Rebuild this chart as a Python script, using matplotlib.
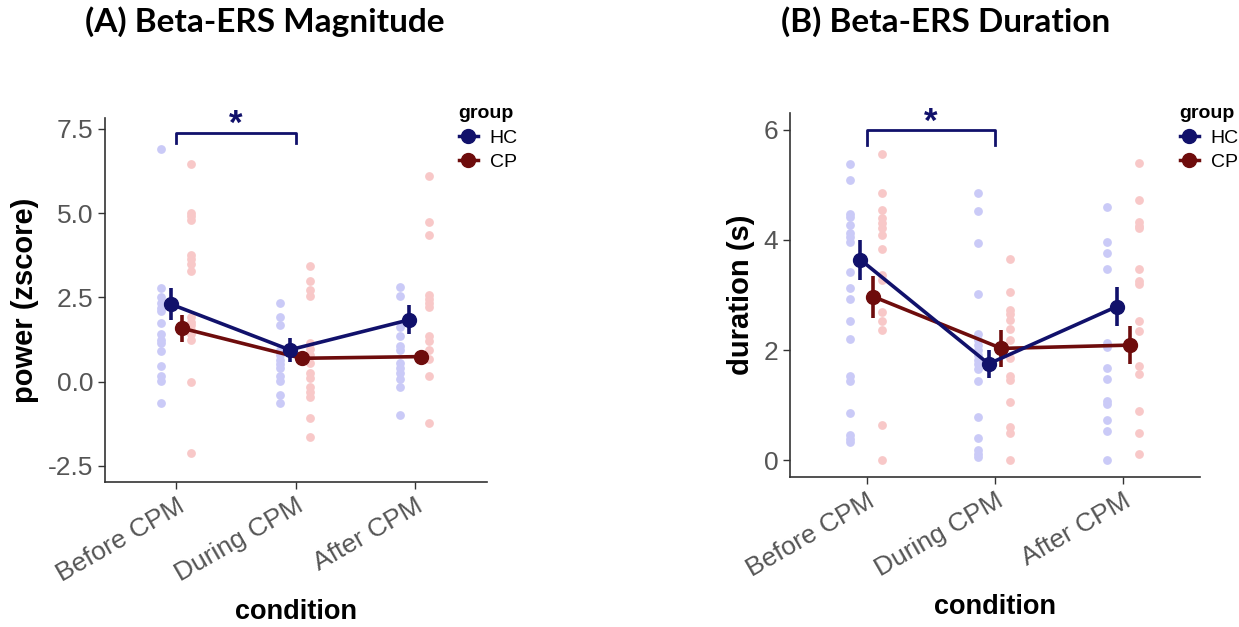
import matplotlib
matplotlib.use("Agg")
import matplotlib.pyplot as plt
from matplotlib.lines import Line2D

# ── Data ───────────────────────────────────────────────────────────────────────
conditions = ["Before CPM", "During CPM", "After CPM"]
groups = ["HC", "CP"]

# (A) power, individual subjects
power_hc = [
    [6.89, 2.79, 2.52, 2.34, 2.18, 2.08, 1.75, 1.41, 1.24, 1.14, 0.92, 0.45, 0.15, 0.03, -0.64],
    [2.32, 1.93, 1.68, 0.94, 0.79, 0.64, 0.52, 0.40, 0.15, 0.03, -0.40, -0.64],
    [2.82, 2.55, 1.63, 1.34, 1.04, 0.94, 0.54, 0.40, 0.25, 0.07, -0.15, -0.99],
]
power_cp = [
    [6.46, 5.01, 4.90, 4.78, 3.76, 3.63, 3.49, 3.29, 1.93, 1.78, 1.68, 1.53, 1.41, 1.24, 0.0, -2.13],
    [3.43, 2.97, 2.72, 2.55, 1.14, 0.96, 0.79, 0.54, 0.25, 0.10, -0.15, -0.30, -0.45, -1.09, -1.65],
    [6.10, 4.72, 4.35, 2.57, 2.44, 2.32, 2.21, 1.34, 1.19, 0.94, 0.66, 0.15, -1.24],
]
power_mean_hc = [2.30, 0.94, 1.83]
power_se_hc = [0.47, 0.36, 0.43]
power_mean_cp = [1.58, 0.69, 0.74]
power_se_cp = [0.40, 0.15, 0.15]

# (B) duration, individual subjects
dur_hc = [
    [5.38, 5.09, 4.48, 4.42, 4.28, 4.12, 4.05, 3.97, 3.42, 3.12, 2.93, 2.53, 2.21, 1.53, 1.44, 0.85, 0.45, 0.39, 0.33],
    [4.86, 4.52, 3.94, 3.01, 2.29, 2.18, 2.09, 2.00, 1.91, 1.82, 1.75, 1.65, 1.44, 0.78, 0.41, 0.18, 0.11, 0.05],
    [4.59, 3.96, 3.76, 3.47, 2.12, 2.06, 1.68, 1.47, 1.08, 1.02, 0.73, 0.53, 0.0],
]
dur_cp = [
    [5.56, 4.86, 4.55, 4.39, 4.30, 4.21, 4.09, 3.83, 3.36, 3.27, 2.70, 2.52, 2.36, 0.64, 0.0],
    [3.65, 3.05, 2.73, 2.65, 2.55, 2.38, 2.18, 1.85, 1.52, 1.45, 1.05, 0.61, 0.50, 0.0],
    [5.39, 4.72, 4.33, 4.25, 4.21, 3.47, 3.26, 3.20, 2.53, 2.35, 1.71, 1.56, 0.90, 0.50, 0.11],
]
dur_mean_hc = [3.64, 1.75, 2.79]
dur_se_hc = [0.36, 0.25, 0.36]
dur_mean_cp = [2.97, 2.03, 2.09]
dur_se_cp = [0.38, 0.33, 0.35]

# ── Style ──────────────────────────────────────────────────────────────────────
plt.rcParams["font.family"] = ["Liberation Sans", "DejaVu Sans"]
C_HC, C_CP = "#11116b", "#6e0c0c"
P_HC, P_CP = "#cacaf7", "#f8c8c8"
GRAY = "#555555"

fig = plt.figure(figsize=(12.39, 6.27), dpi=100)
axA = fig.add_axes([0.0847, 0.2313, 0.308, 0.5805])
axB = fig.add_axes([0.6376, 0.2397, 0.331, 0.5796])


def draw_panel(ax, pts_hc, pts_cp, m_hc, s_hc, m_cp, s_cp, xpad):
    xs = range(1, len(conditions) + 1)
    for x, vh, vc in zip(xs, pts_hc, pts_cp):
        ax.scatter([x - 0.13] * len(vh), vh, s=40, color=P_HC, lw=0, zorder=1)
        ax.scatter([x + 0.12] * len(vc), vc, s=40, color=P_CP, lw=0, zorder=1)
    xh = [x - 0.05 for x in xs]
    xc = [x + 0.05 for x in xs]
    ax.plot(xc, m_cp, color=C_CP, lw=2.6, zorder=2)
    ax.errorbar(xc, m_cp, yerr=s_cp, fmt="o", color=C_CP, ms=10, elinewidth=2.6, capsize=0, zorder=3)
    ax.plot(xh, m_hc, color=C_HC, lw=2.6, zorder=4)
    ax.errorbar(xh, m_hc, yerr=s_hc, fmt="o", color=C_HC, ms=10, elinewidth=2.6, capsize=0, zorder=5)
    ax.set_xlim(0.4, 3.6)
    ax.set_xticks(list(xs))
    ax.set_xticklabels(conditions, rotation=30, ha="right", rotation_mode="anchor",
                       fontsize=19, color=GRAY)
    ax.tick_params(axis="both", colors="#333333", length=5, width=1)
    ax.tick_params(axis="y", labelsize=19, labelcolor=GRAY)
    ax.tick_params(axis="x", labelcolor=GRAY)
    for sp in ("top", "right"):
        ax.spines[sp].set_visible(False)
    for sp in ("left", "bottom"):
        ax.spines[sp].set_color("#333333")
        ax.spines[sp].set_linewidth(1.2)
    ax.set_xlabel("condition", fontsize=19.5, fontweight="bold", labelpad=xpad)


def bracket(ax, y_top, drop, star_y):
    ax.plot([1, 1, 2, 2], [y_top - drop, y_top, y_top, y_top - drop], color=C_HC, lw=2, clip_on=False)
    ax.text(1.5, star_y, "*", color=C_HC, fontsize=25, fontweight="bold", ha="center", va="center")


draw_panel(axA, power_hc, power_cp, power_mean_hc, power_se_hc, power_mean_cp, power_se_cp, 9)
axA.set_ylim(-2.98, 7.82)
axA.set_yticks([-2.5, 0.0, 2.5, 5.0, 7.5])
axA.set_yticklabels(["-2.5", "0.0", "2.5", "5.0", "7.5"])
axA.set_ylabel("power (zscore)", fontsize=21, fontweight="bold", labelpad=6)
bracket(axA, 7.38, 0.3, 7.62)

draw_panel(axB, dur_hc, dur_cp, dur_mean_hc, dur_se_hc, dur_mean_cp, dur_se_cp, 9)
axB.set_ylim(-0.30, 6.3)
axB.set_yticks([0, 2, 4, 6])
axB.set_ylabel("duration (s)", fontsize=21, fontweight="bold", labelpad=6)
bracket(axB, 6.0, 0.27, 6.13)

# ── Legends ────────────────────────────────────────────────────────────────────
handles = [Line2D([0], [0], color=C_HC, marker="o", ms=10, lw=2.5),
           Line2D([0], [0], color=C_CP, marker="o", ms=10, lw=2.5)]
for lx in (0.356, 0.938):
    leg = fig.legend(handles, groups, loc="upper left", bbox_to_anchor=(lx, 0.86),
                     frameon=False, title="group", fontsize=14, handlelength=1.0,
                     handletextpad=0.6, labelspacing=0.35, alignment="left")
    leg.get_title().set_fontweight("bold")
    leg.get_title().set_fontsize(14)

# ── Titles ─────────────────────────────────────────────────────────────────────
fig.text(0.214, 0.965, "(A) Beta-ERS Magnitude", fontsize=24, fontweight="bold",
         ha="center", va="center", family=["Lato", "DejaVu Sans"])
fig.text(0.763, 0.965, "(B) Beta-ERS Duration", fontsize=24, fontweight="bold",
         ha="center", va="center", family=["Lato", "DejaVu Sans"])

fig.savefig("out.png", dpi=100)
